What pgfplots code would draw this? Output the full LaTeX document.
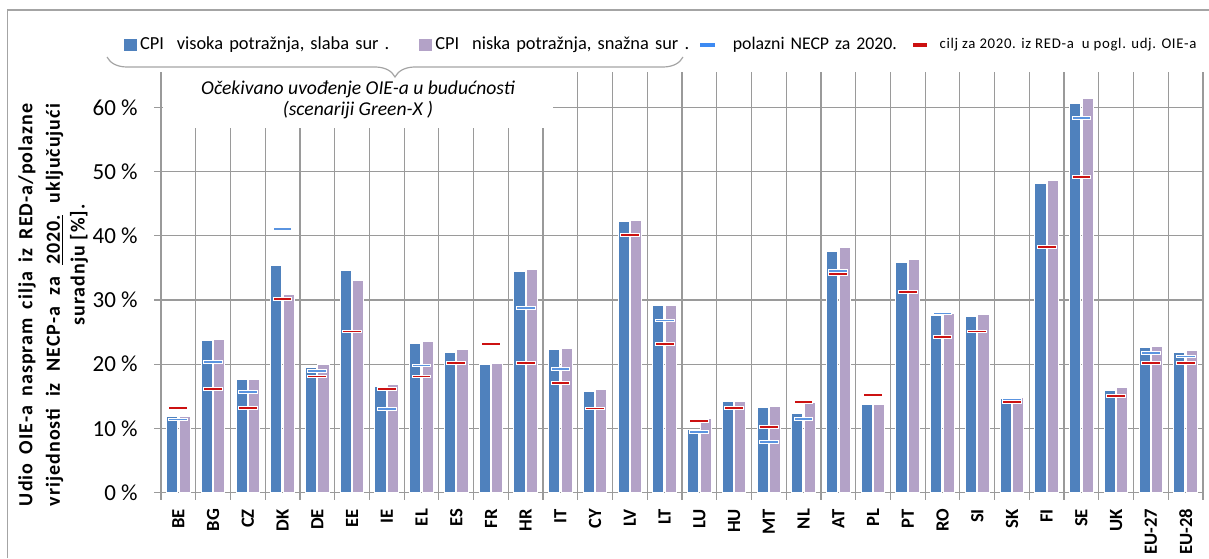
\documentclass[border=0pt]{standalone}
\usepackage{fontspec}
\setmainfont{Carlito}
\usepackage{pgfplots}
\usepackage{pgfplotstable}
\pgfplotsset{compat=1.18}
\usetikzlibrary{decorations.pathreplacing}

\definecolor{cpiA}{HTML}{4F81BD}
\definecolor{cpiB}{HTML}{B3A2C7}
\definecolor{necpM}{HTML}{5A94E0}
\definecolor{necpL}{HTML}{3D8AF2}
\definecolor{redt}{HTML}{CC1111}
\definecolor{gridc}{HTML}{9A9A9A}

\pgfdeclareplotmark{hdash}{%
  \pgfpathrectangle{\pgfpoint{-4.7pt}{-0.7pt}}{\pgfpoint{9.4pt}{1.4pt}}%
  \pgfusepathqfillstroke}

\pgfplotstableread{
x blue purple
0 11.9 11.8
1 23.7 23.8
2 17.6 17.6
3 35.4 30.8
4 19.5 19.9
5 34.6 33.0
6 16.6 16.8
7 23.2 23.6
8 21.9 22.3
9 19.9 20.1
10 34.4 34.7
11 22.3 22.4
12 15.8 16.0
13 42.2 42.4
14 29.1 29.1
15 9.9 11.5
16 14.2 14.2
17 13.3 13.4
18 12.3 14.1
19 37.5 38.1
20 13.7 13.7
21 35.8 36.3
22 27.6 27.9
23 27.5 27.7
24 14.6 14.8
25 48.2 48.6
26 60.6 61.3
27 15.9 16.4
28 22.6 22.8
29 21.8 22.2
}\cpidata

\pgfplotstableread{
x v
0 11.4
1 20.4
2 15.7
3 41.1
4 19.0
6 13.0
7 19.8
10 28.8
11 19.2
14 26.8
15 9.4
17 7.9
18 11.5
19 34.5
22 27.9
24 14.5
26 58.3
28 21.8
29 21.2
}\necpdata

\pgfplotstableread{
x v
0 13.2
1 16.2
2 13.2
3 30.2
4 18.1
5 25.1
6 16.2
7 18.1
8 20.2
9 23.2
10 20.2
11 17.1
12 13.1
13 40.1
14 23.2
15 11.2
16 13.2
17 10.2
18 14.1
19 34.1
20 15.2
21 31.2
22 24.2
23 25.1
24 14.1
25 38.2
26 49.1
27 15.1
28 20.2
29 20.2
}\reddata

\begin{document}
\begin{tikzpicture}
\useasboundingbox (0pt,0pt) rectangle (604.5pt,279pt);
\draw[gridc!90, line width=0.6pt] (3.75pt,0pt) -- (3.75pt,274pt) -- (604.5pt,274pt);
\begin{axis}[
  at={(80.5pt,32.65pt)}, anchor=south west,
  scale only axis, width=521pt, height=210.35pt,
  xmin=-0.5, xmax=29.5, ymin=0, ymax=65.5,
  axis lines*=left,
  axis line style={gridc, line width=0.6pt},
  tick align=outside,
  major tick length=3.5pt,
  tick style={gridc, line width=0.6pt},
  ytick={0,10,...,60},
  yticklabels={0 \%,10 \%,20 \%,30 \%,40 \%,50 \%,60 \%},
  xtick={-0.5,0.5,...,29.5},
  x tick label as interval,
  xticklabels={BE,BG,CZ,DK,DE,EE,IE,EL,ES,FR,HR,IT,CY,LV,LT,LU,HU,MT,NL,AT,PL,PT,RO,SI,SK,FI,SE,UK,EU-27,EU-28},
  xmajorgrids, ymajorgrids,
  grid style={gridc, line width=0.6pt},
  yticklabel style={font=\fontsize{11.5}{13}\selectfont, inner sep=0pt, anchor=east, xshift=-8pt},
  xticklabel style={yshift=-4.5pt, rotate=90, anchor=east, inner sep=0pt, font=\bfseries\fontsize{9.3}{11}\selectfont},
  legend style={at={(-0.0355,1.0642)}, anchor=west, draw=none, fill=none,
    inner sep=0pt, outer sep=0pt, column sep=0pt, row sep=0pt,
    nodes={inner sep=0pt, outer sep=0pt}},
  legend columns=4,
  legend cell align=left,
]
\addplot[ybar, bar width=0.32, bar shift=-0.18, fill=cpiA, draw=white, line width=0.5pt,
  legend image code/.code={\fill[cpiA] (0pt,-2.9pt) rectangle (5.75pt,2.9pt); \path (7.5pt,0pt);}]
  table[x=x,y=blue]{\cpidata};
\addlegendentry[text width=139.7pt, font=\fontsize{9.2}{11}\selectfont]{\mbox{CPI\hspace{0.7em}visoka potražnja, slaba sur .}}
\addplot[ybar, bar width=0.32, bar shift=0.18, fill=cpiB, draw=white, line width=0.5pt,
  legend image code/.code={\fill[cpiB] (0pt,-2.9pt) rectangle (5.75pt,2.9pt); \path (7.5pt,0pt);}]
  table[x=x,y=purple]{\cpidata};
\addlegendentry[text width=132.3pt, font=\fontsize{9.2}{11}\selectfont]{\mbox{CPI\hspace{0.7em}niska potražnja, snažna sur .}}
\addplot[only marks, mark=hdash, mark options={fill=necpM, draw=white, line width=0.5pt},
  legend image code/.code={\fill[necpL] (0pt,-0.75pt) rectangle (7pt,0.75pt); \path (16pt,0pt);}]
  table[x=x,y=v]{\necpdata};
\addlegendentry[text width=90pt, font=\fontsize{8.9}{11}\selectfont]{\mbox{polazni NECP za 2020.}}
\addplot[only marks, mark=hdash, mark options={fill=redt, draw=white, line width=0.5pt},
  legend image code/.code={\fill[redt] (0pt,-0.75pt) rectangle (6.7pt,0.75pt); \path (13pt,0pt);}]
  table[x=x,y=v]{\reddata};
\addlegendentry[font=\fontsize{7.4}{9}\selectfont\addfontfeature{LetterSpace=4.5}]{cilj za 2020. iz RED-a\ \ u pogl. udj. OIE-a}
\end{axis}
% annotation box covering the grid
\fill[white] (81.6pt,243.5pt) rectangle (276.5pt,215pt);
\draw[decorate, decoration={brace, amplitude=10pt, mirror}, gridc!90, line width=0.6pt] (53.5pt,250.5pt) -- (341.5pt,250.5pt);
\node[align=center, font=\itshape\fontsize{9.8}{10.5}\selectfont] at (179pt,229.3pt) {Očekivano uvođenje OIE-a u budućnosti\\(scenariji Green-X )};
% y axis label
\node[rotate=90, inner sep=0pt, font=\bfseries\fontsize{10}{12}\selectfont\addfontfeature{LetterSpace=5}] at (13.5pt,126.5pt) {\makebox[201pt][s]{Udio OIE-a naspram cilja iz RED-a/polazne}};
\node[rotate=90, inner sep=0pt, font=\bfseries\fontsize{10}{12}\selectfont\addfontfeature{LetterSpace=5}] at (27.5pt,126.5pt) {\makebox[201pt][s]{vrijednosti iz NECP-a za \underline{2020.} uključujući}};
\node[rotate=90, inner sep=0pt, font=\bfseries\fontsize{10}{12}\selectfont\addfontfeature{LetterSpace=5}] at (39.5pt,146.5pt) {suradnju [\%].};
\end{tikzpicture}
\end{document}
